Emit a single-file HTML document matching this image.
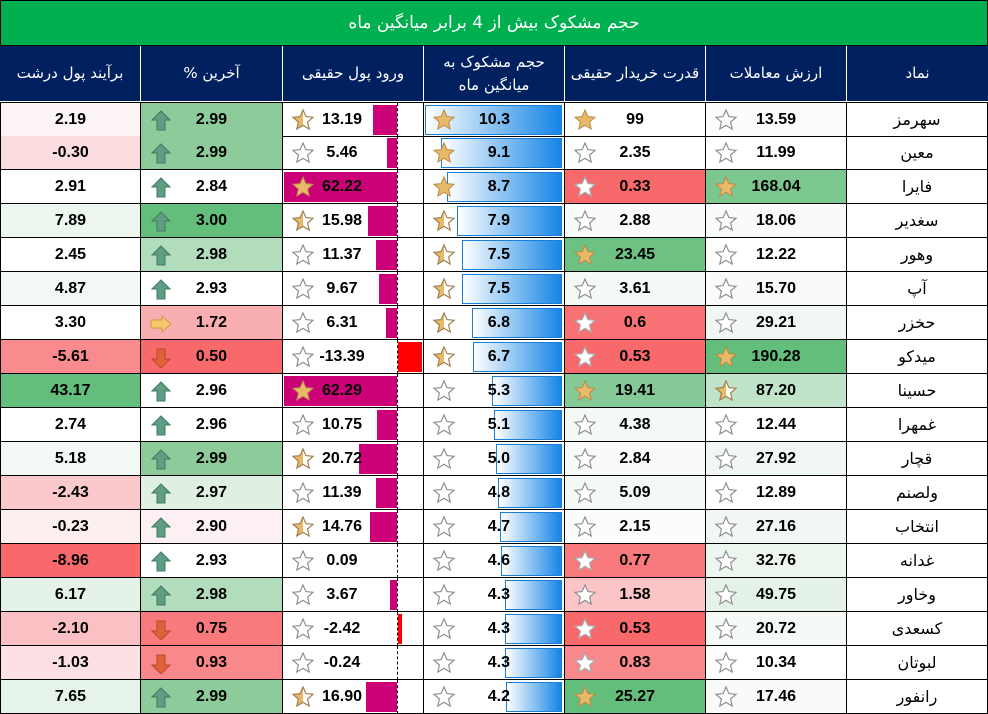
<!DOCTYPE html>
<html><head><meta charset="utf-8"><style>
body{margin:0;width:988px;height:714px;overflow:hidden;background:#fff;font-family:"Liberation Sans","DejaVu Sans",sans-serif}
.t{position:absolute;left:0;top:0;width:986px;height:44px;background:#00b050;border:1px solid #000;color:#fff;font:17px "DejaVu Sans",sans-serif;text-align:center;line-height:44px}
.h{position:absolute;top:46px;height:55px;background:#002060;color:#fff;font:15px "DejaVu Sans",sans-serif;text-align:center;display:flex;align-items:center;justify-content:center;border-right:1px solid #fff;box-sizing:border-box;line-height:23px;white-space:nowrap}
.r{position:absolute;left:0;width:988px;height:34px}
.c{position:absolute;top:0;height:34px;box-sizing:border-box;border-right:1px solid #000;border-bottom:1px solid #000;font-weight:bold;font-size:16px;line-height:33px;text-align:center;color:#000}
.c0{left:0;width:141px;border-left:1px solid #000}.c1{left:141px;width:142px}.c2{left:283px;width:141px}.c3{left:424px;width:141px}.c4{left:565px;width:141px}.c5{left:706px;width:141px}.c6{left:847px;width:141px;font-family:"DejaVu Sans",sans-serif;font-weight:normal;font-size:16px}
.s{position:absolute;left:8px;top:5px;width:24px;height:24px}
.a{position:absolute;left:8px;top:6px;width:22px;height:22px}
.sf{fill:#e9b96a;stroke:#b98a45;stroke-width:1}
.se{fill:#fff;stroke:#909090;stroke-width:1.2}
.sh{fill:url(#hg);stroke:#a08050;stroke-width:1.2}
.sw{fill:#fff;stroke:#aaa;stroke-width:1.2}
.ax{position:absolute;left:114px;top:0;height:34px;border-left:1px dashed #000}
.pb{position:absolute;top:2px;height:30px;background:#cc0077}
.nb{position:absolute;top:2px;left:115px;height:30px;background:#f00}
.vb{position:absolute;top:2px;right:2px;height:28px;background:linear-gradient(90deg,#fff,#1585e6);border:1px solid #1a7fd8}
.ti{position:absolute;left:0;right:22px;top:0}
.tv{position:absolute;right:54px;top:0}
</style></head><body>
<svg width="0" height="0" style="position:absolute"><defs><linearGradient id="hg"><stop offset="50%" stop-color="#e9b96a"/><stop offset="50%" stop-color="#fff"/></linearGradient>
<polygon id="st" points="12,2 14.9,8.6 22,9.3 16.6,14 18.2,21 12,17.3 5.8,21 7.4,14 2,9.3 9.1,8.6"/>
<polygon id="up" points="12,2 21,11 16,11 16,21 8,21 8,11 3,11" fill="#5f9e82" stroke="#3f7a60" stroke-width="1"/>
<polygon id="dn" points="12,22 21,13 16,13 16,3 8,3 8,13 3,13" fill="#e0623a" stroke="#b84a28" stroke-width="1"/>
<polygon id="rt" points="22,12 13,4 13,8 2,8 2,16 13,16 13,20" fill="#f6c86e" stroke="#d49a40" stroke-width="1"/>
</defs></svg>
<div class="t" dir="rtl">حجم مشکوک بیش از 4 برابر میانگین ماه</div>
<div class="h" dir="rtl" style="left:0;width:141px">برآیند پول درشت</div>
<div class="h" dir="rtl" style="left:141px;width:142px">آخرین %</div>
<div class="h" dir="rtl" style="left:283px;width:141px">ورود پول حقیقی</div>
<div class="h" dir="rtl" style="left:424px;width:141px">حجم مشکوک به<br>میانگین ماه</div>
<div class="h" dir="rtl" style="left:565px;width:141px">قدرت خریدار حقیقی</div>
<div class="h" dir="rtl" style="left:706px;width:141px">ارزش معاملات</div>
<div class="h" dir="rtl" style="left:847px;width:141px;border-right:none">نماد</div>

<div class="r" style="top:102px;border-top:1px solid #000"><div class="c c0" style="background:#fdf4f6">2.19</div><div class="c c1" style="background:#8ecb9b"><svg class="a"><use href="#up"/></svg>2.99</div><div class="c c2"><div class="ax"></div><div class="pb" style="left:90px;width:24px"></div><svg class="s"><use href="#st" class="sh"/></svg><span class="ti">13.19</span></div><div class="c c3"><div class="vb" style="width:135px"></div><svg class="s"><use href="#st" class="sf"/></svg><span class="tv">10.3</span></div><div class="c c4"><svg class="s"><use href="#st" class="sf"/></svg>99</div><div class="c c5" style="background:#fbfcfb"><svg class="s"><use href="#st" class="se"/></svg>13.59</div><div class="c c6">سهرمز</div></div>

<div class="r" style="top:136px"><div class="c c0" style="background:#fbdde0">-0.30</div><div class="c c1" style="background:#8ecb9b"><svg class="a"><use href="#up"/></svg>2.99</div><div class="c c2"><div class="ax"></div><div class="pb" style="left:104px;width:10px"></div><svg class="s"><use href="#st" class="se"/></svg><span class="ti">5.46</span></div><div class="c c3"><div class="vb" style="width:119px"></div><svg class="s"><use href="#st" class="sf"/></svg><span class="tv">9.1</span></div><div class="c c4"><svg class="s"><use href="#st" class="se"/></svg>2.35</div><div class="c c5"><svg class="s"><use href="#st" class="se"/></svg>11.99</div><div class="c c6">معین</div></div>

<div class="r" style="top:170px"><div class="c c0">2.91</div><div class="c c1"><svg class="a"><use href="#up"/></svg>2.84</div><div class="c c2"><div class="ax"></div><div class="pb" style="left:1px;width:113px"></div><svg class="s"><use href="#st" class="sf"/></svg><span class="ti">62.22</span></div><div class="c c3"><div class="vb" style="width:113px"></div><svg class="s"><use href="#st" class="sf"/></svg><span class="tv">8.7</span></div><div class="c c4" style="background:#f8696b"><svg class="s"><use href="#st" class="sw"/></svg>0.33</div><div class="c c5" style="background:#7cc68f"><svg class="s"><use href="#st" class="sf"/></svg>168.04</div><div class="c c6">فایرا</div></div>

<div class="r" style="top:204px"><div class="c c0" style="background:#eef6f0">7.89</div><div class="c c1" style="background:#63be7b"><svg class="a"><use href="#up"/></svg>3.00</div><div class="c c2"><div class="ax"></div><div class="pb" style="left:85px;width:29px"></div><svg class="s"><use href="#st" class="sh"/></svg><span class="ti">15.98</span></div><div class="c c3"><div class="vb" style="width:103px"></div><svg class="s"><use href="#st" class="sh"/></svg><span class="tv">7.9</span></div><div class="c c4" style="background:#f8fbf9"><svg class="s"><use href="#st" class="se"/></svg>2.88</div><div class="c c5" style="background:#f8fbf9"><svg class="s"><use href="#st" class="se"/></svg>18.06</div><div class="c c6">سغدیر</div></div>

<div class="r" style="top:238px"><div class="c c0">2.45</div><div class="c c1" style="background:#b2ddbd"><svg class="a"><use href="#up"/></svg>2.98</div><div class="c c2"><div class="ax"></div><div class="pb" style="left:93px;width:21px"></div><svg class="s"><use href="#st" class="se"/></svg><span class="ti">11.37</span></div><div class="c c3"><div class="vb" style="width:98px"></div><svg class="s"><use href="#st" class="sh"/></svg><span class="tv">7.5</span></div><div class="c c4" style="background:#6cc183"><svg class="s"><use href="#st" class="sf"/></svg>23.45</div><div class="c c5"><svg class="s"><use href="#st" class="se"/></svg>12.22</div><div class="c c6">وهور</div></div>

<div class="r" style="top:272px"><div class="c c0" style="background:#f4f9f5">4.87</div><div class="c c1"><svg class="a"><use href="#up"/></svg>2.93</div><div class="c c2"><div class="ax"></div><div class="pb" style="left:96px;width:18px"></div><svg class="s"><use href="#st" class="se"/></svg><span class="ti">9.67</span></div><div class="c c3"><div class="vb" style="width:98px"></div><svg class="s"><use href="#st" class="sh"/></svg><span class="tv">7.5</span></div><div class="c c4" style="background:#f5f9f6"><svg class="s"><use href="#st" class="se"/></svg>3.61</div><div class="c c5" style="background:#f8fbf9"><svg class="s"><use href="#st" class="se"/></svg>15.70</div><div class="c c6">آپ</div></div>

<div class="r" style="top:306px"><div class="c c0">3.30</div><div class="c c1" style="background:#f9aeb1"><svg class="a"><use href="#rt"/></svg>1.72</div><div class="c c2"><div class="ax"></div><div class="pb" style="left:103px;width:11px"></div><svg class="s"><use href="#st" class="se"/></svg><span class="ti">6.31</span></div><div class="c c3"><div class="vb" style="width:88px"></div><svg class="s"><use href="#st" class="sh"/></svg><span class="tv">6.8</span></div><div class="c c4" style="background:#f87174"><svg class="s"><use href="#st" class="sw"/></svg>0.6</div><div class="c c5" style="background:#f1f8f3"><svg class="s"><use href="#st" class="se"/></svg>29.21</div><div class="c c6">حخزر</div></div>

<div class="r" style="top:340px"><div class="c c0" style="background:#f98a8d">-5.61</div><div class="c c1" style="background:#f8696b"><svg class="a"><use href="#dn"/></svg>0.50</div><div class="c c2"><div class="ax"></div><div class="nb" style="width:24px"></div><svg class="s"><use href="#st" class="se"/></svg><span class="ti">-13.39</span></div><div class="c c3"><div class="vb" style="width:87px"></div><svg class="s"><use href="#st" class="sh"/></svg><span class="tv">6.7</span></div><div class="c c4" style="background:#f8696b"><svg class="s"><use href="#st" class="sw"/></svg>0.53</div><div class="c c5" style="background:#63be7b"><svg class="s"><use href="#st" class="sf"/></svg>190.28</div><div class="c c6">میدکو</div></div>

<div class="r" style="top:374px"><div class="c c0" style="background:#63be7b">43.17</div><div class="c c1"><svg class="a"><use href="#up"/></svg>2.96</div><div class="c c2"><div class="ax"></div><div class="pb" style="left:1px;width:113px"></div><svg class="s"><use href="#st" class="sf"/></svg><span class="ti">62.29</span></div><div class="c c3"><div class="vb" style="width:68px"></div><svg class="s"><use href="#st" class="se"/></svg><span class="tv">5.3</span></div><div class="c c4" style="background:#84c996"><svg class="s"><use href="#st" class="sf"/></svg>19.41</div><div class="c c5" style="background:#c0e4c9"><svg class="s"><use href="#st" class="sh"/></svg>87.20</div><div class="c c6">حسینا</div></div>

<div class="r" style="top:408px"><div class="c c0">2.74</div><div class="c c1"><svg class="a"><use href="#up"/></svg>2.96</div><div class="c c2"><div class="ax"></div><div class="pb" style="left:94px;width:20px"></div><svg class="s"><use href="#st" class="se"/></svg><span class="ti">10.75</span></div><div class="c c3"><div class="vb" style="width:66px"></div><svg class="s"><use href="#st" class="se"/></svg><span class="tv">5.1</span></div><div class="c c4" style="background:#f5f9f6"><svg class="s"><use href="#st" class="se"/></svg>4.38</div><div class="c c5"><svg class="s"><use href="#st" class="se"/></svg>12.44</div><div class="c c6">غمهرا</div></div>

<div class="r" style="top:442px"><div class="c c0" style="background:#f3f9f4">5.18</div><div class="c c1" style="background:#8ecb9b"><svg class="a"><use href="#up"/></svg>2.99</div><div class="c c2"><div class="ax"></div><div class="pb" style="left:76px;width:38px"></div><svg class="s"><use href="#st" class="sh"/></svg><span class="ti">20.72</span></div><div class="c c3"><div class="vb" style="width:64px"></div><svg class="s"><use href="#st" class="se"/></svg><span class="tv">5.0</span></div><div class="c c4" style="background:#f8fbf9"><svg class="s"><use href="#st" class="se"/></svg>2.84</div><div class="c c5" style="background:#f1f8f3"><svg class="s"><use href="#st" class="se"/></svg>27.92</div><div class="c c6">قچار</div></div>

<div class="r" style="top:476px"><div class="c c0" style="background:#fbc8cb">-2.43</div><div class="c c1" style="background:#dff0e3"><svg class="a"><use href="#up"/></svg>2.97</div><div class="c c2"><div class="ax"></div><div class="pb" style="left:93px;width:21px"></div><svg class="s"><use href="#st" class="se"/></svg><span class="ti">11.39</span></div><div class="c c3"><div class="vb" style="width:62px"></div><svg class="s"><use href="#st" class="se"/></svg><span class="tv">4.8</span></div><div class="c c4" style="background:#f4f9f5"><svg class="s"><use href="#st" class="se"/></svg>5.09</div><div class="c c5"><svg class="s"><use href="#st" class="se"/></svg>12.89</div><div class="c c6">ولصنم</div></div>

<div class="r" style="top:510px"><div class="c c0" style="background:#fdeef0">-0.23</div><div class="c c1" style="background:#fdf0f2"><svg class="a"><use href="#up"/></svg>2.90</div><div class="c c2"><div class="ax"></div><div class="pb" style="left:87px;width:27px"></div><svg class="s"><use href="#st" class="sh"/></svg><span class="ti">14.76</span></div><div class="c c3"><div class="vb" style="width:60px"></div><svg class="s"><use href="#st" class="se"/></svg><span class="tv">4.7</span></div><div class="c c4" style="background:#fbfcfb"><svg class="s"><use href="#st" class="se"/></svg>2.15</div><div class="c c5" style="background:#f1f8f3"><svg class="s"><use href="#st" class="se"/></svg>27.16</div><div class="c c6">انتخاب</div></div>

<div class="r" style="top:544px"><div class="c c0" style="background:#f8696b">-8.96</div><div class="c c1"><svg class="a"><use href="#up"/></svg>2.93</div><div class="c c2"><div class="ax"></div><svg class="s"><use href="#st" class="se"/></svg><span class="ti">0.09</span></div><div class="c c3"><div class="vb" style="width:59px"></div><svg class="s"><use href="#st" class="se"/></svg><span class="tv">4.6</span></div><div class="c c4" style="background:#f8797c"><svg class="s"><use href="#st" class="sw"/></svg>0.77</div><div class="c c5" style="background:#eef6f0"><svg class="s"><use href="#st" class="se"/></svg>32.76</div><div class="c c6">غدانه</div></div>

<div class="r" style="top:578px"><div class="c c0" style="background:#e4f2e7">6.17</div><div class="c c1" style="background:#b2ddbd"><svg class="a"><use href="#up"/></svg>2.98</div><div class="c c2"><div class="ax"></div><div class="pb" style="left:107px;width:7px"></div><svg class="s"><use href="#st" class="se"/></svg><span class="ti">3.67</span></div><div class="c c3"><div class="vb" style="width:55px"></div><svg class="s"><use href="#st" class="se"/></svg><span class="tv">4.3</span></div><div class="c c4" style="background:#fbc5c8"><svg class="s"><use href="#st" class="se"/></svg>1.58</div><div class="c c5" style="background:#e4f2e7"><svg class="s"><use href="#st" class="se"/></svg>49.75</div><div class="c c6">وخاور</div></div>

<div class="r" style="top:612px"><div class="c c0" style="background:#fbc0c3">-2.10</div><div class="c c1" style="background:#f87a7c"><svg class="a"><use href="#dn"/></svg>0.75</div><div class="c c2"><div class="ax"></div><div class="nb" style="width:4px"></div><svg class="s"><use href="#st" class="se"/></svg><span class="ti">-2.42</span></div><div class="c c3"><div class="vb" style="width:55px"></div><svg class="s"><use href="#st" class="se"/></svg><span class="tv">4.3</span></div><div class="c c4" style="background:#f8696b"><svg class="s"><use href="#st" class="sw"/></svg>0.53</div><div class="c c5" style="background:#f6faf7"><svg class="s"><use href="#st" class="se"/></svg>20.72</div><div class="c c6">کسعدی</div></div>

<div class="r" style="top:646px"><div class="c c0" style="background:#fce0e3">-1.03</div><div class="c c1" style="background:#f9888b"><svg class="a"><use href="#dn"/></svg>0.93</div><div class="c c2"><div class="ax"></div><svg class="s"><use href="#st" class="se"/></svg><span class="ti">-0.24</span></div><div class="c c3"><div class="vb" style="width:55px"></div><svg class="s"><use href="#st" class="se"/></svg><span class="tv">4.3</span></div><div class="c c4" style="background:#f9888b"><svg class="s"><use href="#st" class="sw"/></svg>0.83</div><div class="c c5"><svg class="s"><use href="#st" class="se"/></svg>10.34</div><div class="c c6">لبوتان</div></div>

<div class="r" style="top:680px"><div class="c c0" style="background:#e6f3e9">7.65</div><div class="c c1" style="background:#8ecb9b"><svg class="a"><use href="#up"/></svg>2.99</div><div class="c c2"><div class="ax"></div><div class="pb" style="left:83px;width:31px"></div><svg class="s"><use href="#st" class="sh"/></svg><span class="ti">16.90</span></div><div class="c c3"><div class="vb" style="width:54px"></div><svg class="s"><use href="#st" class="se"/></svg><span class="tv">4.2</span></div><div class="c c4" style="background:#63be7b"><svg class="s"><use href="#st" class="sf"/></svg>25.27</div><div class="c c5" style="background:#f8fbf9"><svg class="s"><use href="#st" class="se"/></svg>17.46</div><div class="c c6">رانفور</div></div>
</body></html>
